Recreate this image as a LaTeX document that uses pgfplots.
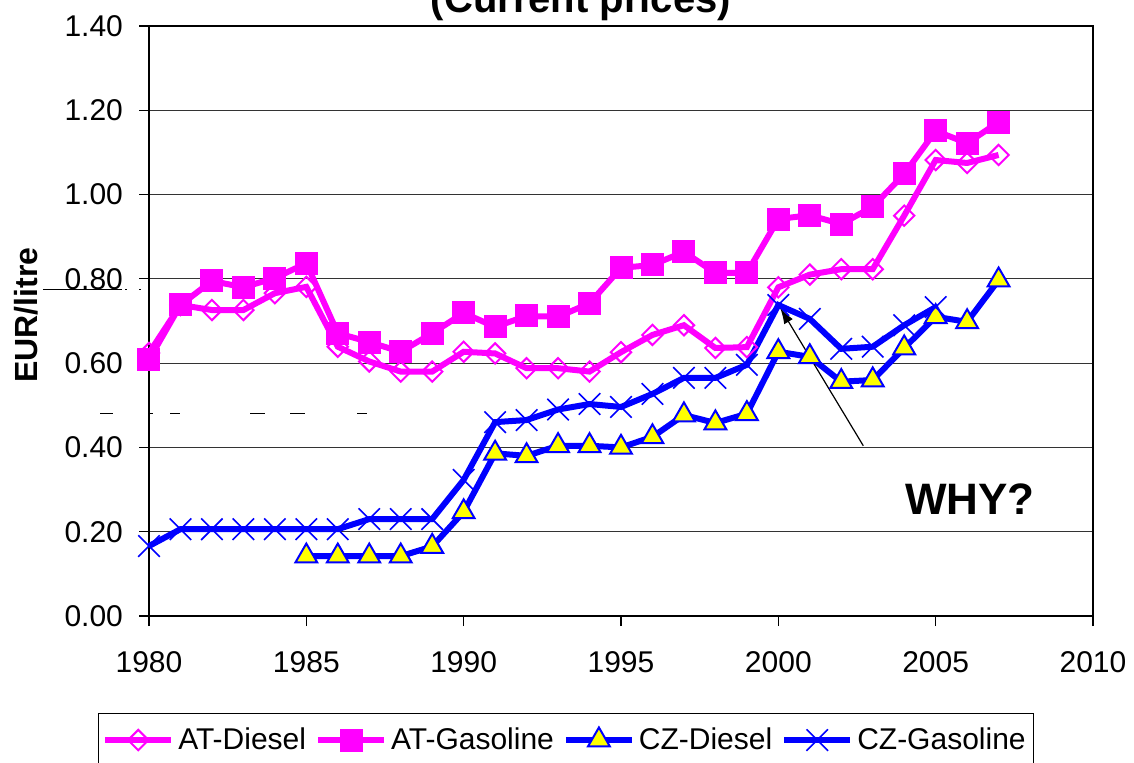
\documentclass[border=0pt]{standalone}
\usepackage{pgfplots}
\pgfplotsset{compat=1.18}
\usepackage{fontspec}
\setmainfont{Liberation Sans}
\usetikzlibrary{arrows.meta}
\definecolor{mag}{RGB}{255,0,255}
\definecolor{blu}{RGB}{0,0,255}
\definecolor{yel}{RGB}{255,255,0}
\begin{document}
\begin{tikzpicture}
\begin{axis}[
  name=ax, at={(0,0)}, anchor=south west,
  scale only axis, width=472pt, height=295pt,
  xmin=1980, xmax=2010, ymin=0, ymax=1.4,
  xtick={1980,1985,1990,1995,2000,2005,2010},
  ytick={0,0.2,0.4,0.6,0.8,1.0,1.2,1.4},
  tick align=outside, major tick length=5pt,
  xtick pos=lower, ytick pos=left,
  tick style={black, line width=0.6pt},
  ymajorgrids, grid style={black!80, line width=0.5pt},
  axis line style={line width=1.2pt},
  clip=false,
  /pgf/number format/assume math mode=true,
  x tick label style={font=\fontsize{15}{18}\selectfont, /pgf/number format/1000 sep={}, yshift=-9pt},
  y tick label style={font=\fontsize{15}{18}\selectfont, /pgf/number format/.cd, fixed, fixed zerofill, precision=2, /tikz/.cd, xshift=-4.5pt},
  ylabel={EUR/litre},
  every axis y label/.style={at={(axis description cs:-0.130,0.51)}, rotate=90, anchor=center},
  ylabel style={font=\bfseries\fontsize{16}{19}\selectfont},
  legend style={at={(0.4417,-0.1644)}, anchor=north, legend columns=4, draw=black, line width=0.7pt,
    font=\fontsize{15}{18}\selectfont, inner xsep=2pt, inner ysep=5pt,
    /tikz/every even column/.append style={column sep=2.5pt}},
  legend image code/.code={\draw[#1, mark repeat=2, mark phase=2] plot coordinates {(0pt,0pt) (16.5pt,0pt) (33pt,0pt)};},
]
\addplot[mag, line width=3pt, mark=square, mark size=3.6pt, mark options={solid, rotate=45, line width=1pt, fill=none}] coordinates {
(1980,0.624) (1981,0.738) (1982,0.726) (1983,0.726) (1984,0.766) (1985,0.781)
(1986,0.639) (1987,0.604) (1988,0.580) (1989,0.580) (1990,0.627) (1991,0.623)
(1992,0.588) (1993,0.588) (1994,0.580) (1995,0.626) (1996,0.667) (1997,0.690)
(1998,0.636) (1999,0.638) (2000,0.780) (2001,0.810) (2002,0.823) (2003,0.823)
(2004,0.950) (2005,1.082) (2006,1.075) (2007,1.094)};
\addlegendentry{AT-Diesel}
\addplot[mag, line width=3pt, mark=square*, mark size=5.5pt, mark options={solid, line width=0.5pt, fill=mag}] coordinates {
(1980,0.608) (1981,0.738) (1982,0.795) (1983,0.780) (1984,0.802) (1985,0.837)
(1986,0.671) (1987,0.650) (1988,0.627) (1989,0.671) (1990,0.719) (1991,0.686)
(1992,0.712) (1993,0.710) (1994,0.742) (1995,0.826) (1996,0.833) (1997,0.864)
(1998,0.814) (1999,0.814) (2000,0.942) (2001,0.951) (2002,0.930) (2003,0.971)
(2004,1.049) (2005,1.151) (2006,1.122) (2007,1.172)};
\addlegendentry{AT-Gasoline}
\addplot[blu, line width=3pt, mark=triangle*, mark size=6.3pt, mark options={solid, line width=1pt, draw=blu, fill=yel}] coordinates {
(1985,0.142) (1986,0.142) (1987,0.142) (1988,0.142) (1989,0.165) (1990,0.247)
(1991,0.386) (1992,0.380) (1993,0.404) (1994,0.404) (1995,0.400) (1996,0.425)
(1997,0.477) (1998,0.458) (1999,0.480) (2000,0.627) (2001,0.615) (2002,0.556)
(2003,0.560) (2004,0.636) (2005,0.710) (2006,0.698) (2007,0.797)};
\addlegendentry{CZ-Diesel}
\addplot[blu, line width=3pt, mark=x, mark size=7.6pt, mark options={solid, line width=0.8pt}] coordinates {
(1980,0.166) (1981,0.206) (1982,0.206) (1983,0.206) (1984,0.206) (1985,0.206)
(1986,0.206) (1987,0.230) (1988,0.230) (1989,0.230) (1990,0.323) (1991,0.460)
(1992,0.465) (1993,0.490) (1994,0.503) (1995,0.496) (1996,0.527) (1997,0.565)
(1998,0.565) (1999,0.596) (2000,0.738) (2001,0.705) (2002,0.634) (2003,0.639)
(2004,0.690) (2005,0.733)};
\addlegendentry{CZ-Gasoline}
\draw[-{Latex[length=8pt,width=5pt]}, line width=0.6pt] (axis cs:2002.7,0.404) -- (axis cs:2000.06,0.731);
\node[font=\bfseries\fontsize{22}{26}\selectfont] at (axis cs:2006.09,0.278) {WHY?};
\end{axis}
\node[font=\bfseries\fontsize{20}{24}\selectfont, anchor=base] at (216pt,301.5pt) {(Current prices)};
\draw[line width=0.5pt] (-53pt,163.5pt) -- (-13.5pt,163.5pt);
\draw[line width=0.5pt] (-12pt,163.5pt) -- (-11pt,163.5pt);
\draw[line width=0.5pt] (-5pt,163.5pt) -- (-4pt,163.5pt);
\draw[line width=0.5pt] (-24.5pt,101.5pt) -- (-18pt,101.5pt);
\draw[line width=0.5pt] (0.5pt,101.5pt) -- (2pt,101.5pt);
\draw[line width=0.5pt] (10.5pt,101.5pt) -- (15.5pt,101.5pt);
\draw[line width=0.5pt] (50.5pt,101.5pt) -- (58pt,101.5pt);
\draw[line width=0.5pt] (70.5pt,101.5pt) -- (78pt,101.5pt);
\draw[line width=0.5pt] (104pt,101.5pt) -- (109pt,101.5pt);
\pgfresetboundingbox
\useasboundingbox (-74.5pt,-73pt) rectangle (492.5pt,308pt);
\end{tikzpicture}
\end{document}
